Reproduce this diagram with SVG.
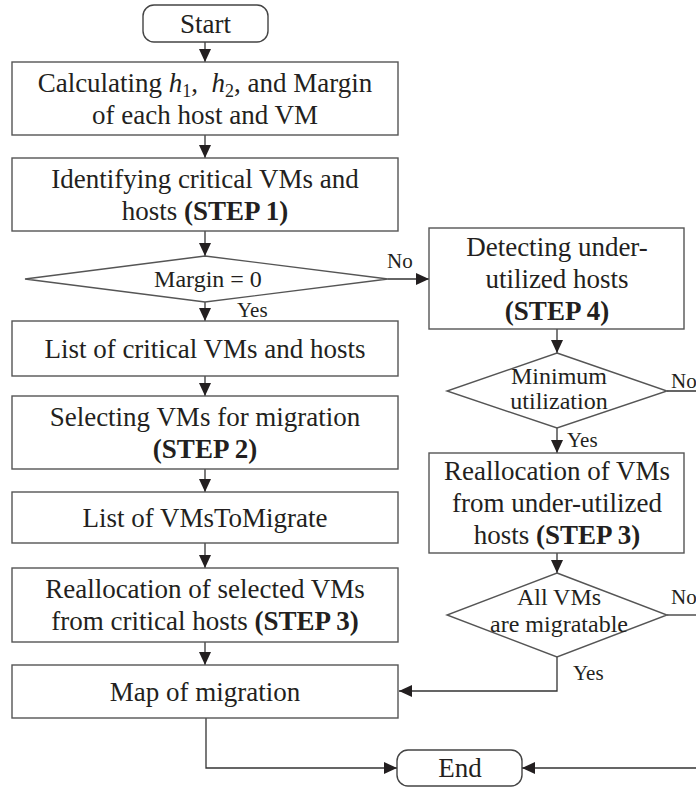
<svg xmlns="http://www.w3.org/2000/svg" width="696" height="787" viewBox="0 0 696 787">
  <style>
    .box { fill: #ffffff; stroke: #555555; stroke-width: 1.4; }
    .term { fill: #ffffff; stroke: #444444; stroke-width: 1.4; }
    .con { fill: none; stroke: #333333; stroke-width: 1.3; }
    .arr { marker-end: url(#ah); }
    .tx { font-family: 'Liberation Serif', 'DejaVu Serif', 'Times New Roman', serif; fill: #231f20; }
    .t { font-size: 27px; text-anchor: middle; }
    .d { font-size: 24px; text-anchor: middle; }
    .l { font-size: 21px; }
    .b { font-weight: bold; }
    .i { font-style: italic; }
    .sub { font-size: 18px; }
  </style>
  <defs>
    <marker id="ah" markerWidth="13" markerHeight="12" refX="13" refY="6" orient="auto" markerUnits="userSpaceOnUse">
      <path d="M0,0 L13,6 L0,12 Z" fill="#231f20"/>
    </marker>
  </defs>

  <!-- connectors -->
  <g id="connectors">
    <line class="con arr" x1="205" y1="42" x2="205" y2="62"/>
    <line class="con arr" x1="205" y1="135" x2="205" y2="158"/>
    <line class="con arr" x1="205" y1="231" x2="205" y2="256"/>
    <line class="con arr" x1="388" y1="279" x2="429" y2="279"/>
    <line class="con arr" x1="205" y1="302" x2="205" y2="321"/>
    <line class="con arr" x1="205" y1="376" x2="205" y2="396"/>
    <line class="con arr" x1="205" y1="469" x2="205" y2="492"/>
    <line class="con arr" x1="205" y1="543" x2="205" y2="568"/>
    <line class="con arr" x1="205" y1="642" x2="205" y2="665"/>
    <path class="con arr" d="M206,718 V768 H397"/>
    <line class="con arr" x1="557" y1="329" x2="557" y2="353"/>
    <line class="con arr" x1="557" y1="428" x2="557" y2="453"/>
    <line class="con arr" x1="557" y1="553" x2="557" y2="573"/>
    <path class="con arr" d="M557,657 V691 H399"/>
    <path class="con arr" d="M667,391 H699 V768 H522"/>
    <path class="con" d="M667,615 H699"/>
    <g class="tx l">
      <text x="387" y="268">No</text>
      <text x="237" y="317">Yes</text>
      <text x="671" y="388">No</text>
      <text x="567" y="447">Yes</text>
      <text x="671" y="604">No</text>
      <text x="573" y="680">Yes</text>
    </g>
  </g>

  <g id="start" class="tx">
    <rect class="term" x="143" y="5" width="125" height="37" rx="11"/>
    <text class="t" x="205.5" y="33">Start</text>
  </g>

  <g id="calc" class="tx">
    <rect class="box" x="12" y="62" width="386" height="73"/>
    <text class="t" x="205" y="91.5">Calculating <tspan class="i">h</tspan><tspan class="sub" dy="5">1</tspan><tspan dy="-5">,&#160; </tspan><tspan class="i">h</tspan><tspan class="sub" dy="5">2</tspan><tspan dy="-5">, and Margin</tspan></text>
    <text class="t" x="205" y="123.5">of each host and VM</text>
  </g>

  <g id="identify" class="tx">
    <rect class="box" x="12" y="158" width="386" height="73"/>
    <text class="t" x="205" y="187.5">Identifying critical VMs and</text>
    <text class="t" x="205" y="219.5">hosts <tspan class="b">(STEP 1)</tspan></text>
  </g>

  <g id="margin" class="tx">
    <polygon class="box" points="205,256 388,279 205,302 25,279"/>
    <text class="d" x="208" y="287">Margin = 0</text>
  </g>

  <g id="critical-list" class="tx">
    <rect class="box" x="12" y="321" width="386" height="55"/>
    <text class="t" x="205" y="357.5">List of critical VMs and hosts</text>
  </g>

  <g id="select" class="tx">
    <rect class="box" x="12" y="396" width="386" height="73"/>
    <text class="t" x="205" y="425.5">Selecting VMs for migration</text>
    <text class="t" x="205" y="457.5"><tspan class="b">(STEP 2)</tspan></text>
  </g>

  <g id="vms-to-migrate" class="tx">
    <rect class="box" x="12" y="492" width="386" height="51"/>
    <text class="t" x="205" y="526.5">List of VMsToMigrate</text>
  </g>

  <g id="realloc-critical" class="tx">
    <rect class="box" x="12" y="568" width="386" height="74"/>
    <text class="t" x="205" y="598">Reallocation of selected VMs</text>
    <text class="t" x="205" y="630">from critical hosts <tspan class="b">(STEP 3)</tspan></text>
  </g>

  <g id="map" class="tx">
    <rect class="box" x="12" y="665" width="386" height="53"/>
    <text class="t" x="205" y="700.5">Map of migration</text>
  </g>

  <g id="end" class="tx">
    <rect class="term" x="397" y="750" width="125" height="36" rx="11"/>
    <text class="t" x="460" y="777">End</text>
  </g>

  <g id="detect" class="tx">
    <rect class="box" x="429" y="228" width="255" height="101"/>
    <text class="t" x="557" y="255.5">Detecting under-</text>
    <text class="t" x="557" y="287.5">utilized hosts</text>
    <text class="t" x="557" y="319.5"><tspan class="b">(STEP 4)</tspan></text>
  </g>

  <g id="min-util" class="tx">
    <polygon class="box" points="557,353 667,391 557,428 447,391"/>
    <text class="d" x="559" y="384">Minimum</text>
    <text class="d" x="559" y="409">utilization</text>
  </g>

  <g id="realloc-under" class="tx">
    <rect class="box" x="429" y="453" width="255" height="100"/>
    <text class="t" x="557" y="480">Reallocation of VMs</text>
    <text class="t" x="557" y="512">from under-utilized</text>
    <text class="t" x="557" y="544">hosts <tspan class="b">(STEP 3)</tspan></text>
  </g>

  <g id="all-migratable" class="tx">
    <polygon class="box" points="557,573 667,615 557,657 447,615"/>
    <text class="d" x="559" y="605">All VMs</text>
    <text class="d" x="559" y="632">are migratable</text>
  </g>
</svg>
